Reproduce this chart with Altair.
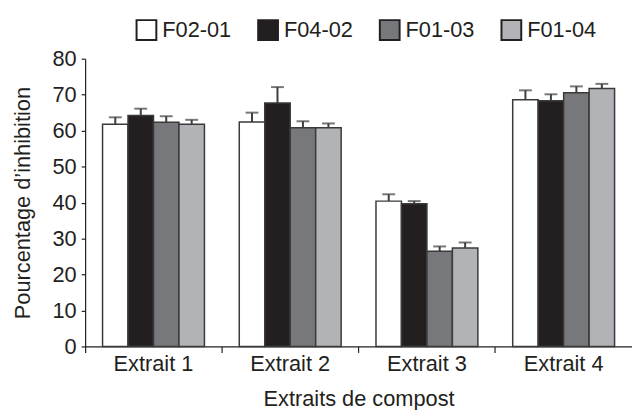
import altair as alt
import pandas as pd

categories = ["Extrait 1", "Extrait 2", "Extrait 3", "Extrait 4"]
series = ["F02-01", "F04-02", "F01-03", "F01-04"]
colors = ["#ffffff", "#231f20", "#77787b", "#b1b3b6"]

values = {
    "F02-01": [61.8, 62.4, 40.4, 68.6],
    "F04-02": [64.2, 67.7, 39.7, 68.3],
    "F01-03": [62.3, 60.8, 26.5, 70.5],
    "F01-04": [61.8, 60.8, 27.4, 71.7],
}
errors = {
    "F02-01": [1.9, 2.6, 1.9, 2.6],
    "F04-02": [1.9, 4.4, 0.7, 1.8],
    "F01-03": [1.7, 1.8, 1.3, 1.8],
    "F01-04": [1.2, 1.2, 1.5, 1.3],
}
y_ticks = [0, 10, 20, 30, 40, 50, 60, 70, 80]

rows = []
for s in series:
    for i, c in enumerate(categories):
        v = values[s][i]
        e = errors[s][i]
        rows.append({"cat": c, "serie": s, "val": v, "top": v + e})
df = pd.DataFrame(rows)

FONT = "Liberation Sans"
TXT = "#231f20"

x = alt.X("cat:N", sort=categories, title="Extraits de compost",
          scale=alt.Scale(paddingInner=0, paddingOuter=0),
          axis=alt.Axis(bandPosition=0, labelAngle=0, tickSize=6, labelPadding=1,
                        titlePadding=15))
xo = alt.XOffset("serie:N", sort=series,
                 scale=alt.Scale(paddingInner=0, paddingOuter=0.684))


def ydef(field):
    return alt.Y(field, title="Pourcentage d\u2019inhibition",
                 scale=alt.Scale(domain=[0, 80], nice=False),
                 axis=alt.Axis(values=y_ticks, tickCount=9, tickSize=4,
                               labelPadding=5, titlePadding=18, grid=False,
                               labelOverlap=False))


color = alt.Color("serie:N", sort=series,
                  scale=alt.Scale(domain=series, range=colors),
                  legend=alt.Legend(title=None, orient="none", direction="horizontal",
                                    legendX=51, legendY=-40, symbolType="square",
                                    symbolSize=400, symbolStrokeColor="#231f20",
                                    symbolStrokeWidth=2, labelFontSize=22,
                                    labelFont=FONT, labelColor=TXT, labelOffset=5,
                                    columnPadding=23, symbolOpacity=1))

rules = alt.Chart(df).mark_rule(color="#3d3d3d", strokeWidth=2).encode(
    x=x, xOffset=xo, y=ydef("val:Q"), y2="top:Q")
caps = alt.Chart(df).mark_tick(color="#3d3d3d", thickness=2, size=13, orient="horizontal").encode(
    x=x, xOffset=xo, y=ydef("top:Q"))
bars = alt.Chart(df).mark_bar(stroke="#3a3a3a", strokeWidth=1.5, opacity=1).encode(
    x=x, xOffset=xo, y=ydef("val:Q"), color=color)

chart = alt.layer(rules, caps, bars).properties(
    width=553, height=291,
    autosize=alt.AutoSizeParams(type="none"),
    padding={"left": 78, "top": 49, "right": 0, "bottom": 62},
).configure_view(stroke=None).configure_axis(
    labelFont=FONT, titleFont=FONT, labelFontSize=22, titleFontSize=22,
    labelColor=TXT, titleColor=TXT, titleFontWeight="normal",
    domainColor=TXT, tickColor=TXT, domainWidth=1.2, tickWidth=1.2,
)

chart.save("out.html", embed_options={"renderer": "svg", "actions": False})
